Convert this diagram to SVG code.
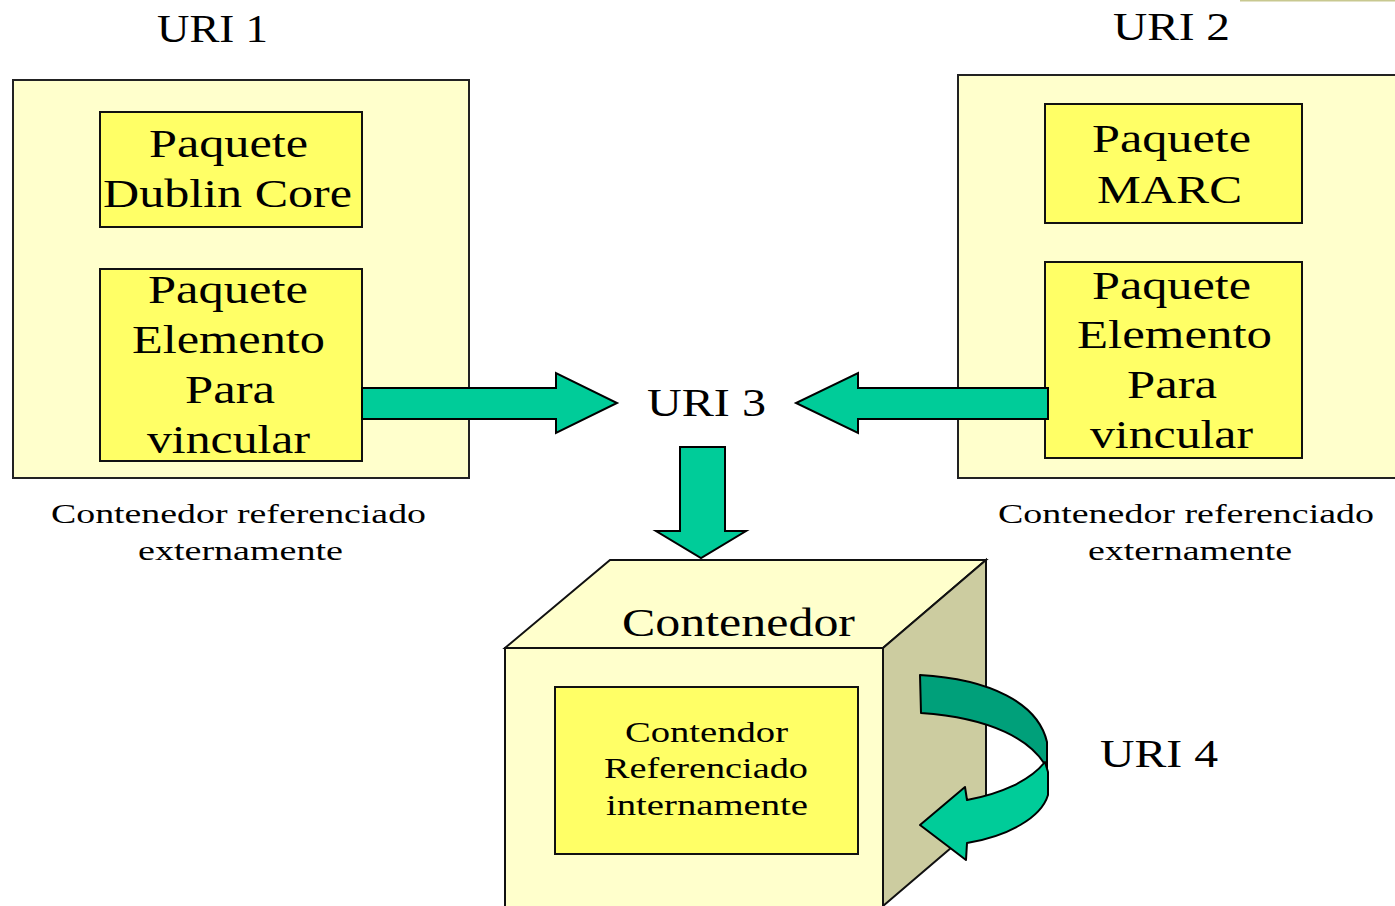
<svg xmlns="http://www.w3.org/2000/svg" width="1395" height="906" viewBox="0 0 1395 906">
<style>
.outer{fill:#FFFFCC;stroke:#222;stroke-width:2}
.inner{fill:#FFFF66;stroke:#111;stroke-width:2}
.t{font-family:"Liberation Serif","Times New Roman",serif;fill:#000;text-anchor:middle}
.big{font-size:40px}
.mid{font-size:30px}
.small{font-size:27px}
.arrow{fill:#00CC99;stroke:#000;stroke-width:2;stroke-linejoin:miter}
</style>
<rect x="0" y="0" width="1395" height="906" fill="#fff"/>
<line x1="1240" y1="0.5" x2="1395" y2="0.5" stroke="#C8C890" stroke-width="2"/>

<g id="uri1-label"><text class="t big" x="212.5" y="42" textLength="111" lengthAdjust="spacingAndGlyphs">URI 1</text></g>
<g id="uri2-label"><text class="t big" x="1171.5" y="40" textLength="117" lengthAdjust="spacingAndGlyphs">URI 2</text></g>

<g id="container-left">
<rect class="outer" x="13" y="80" width="456" height="398"/>
<text class="t small" x="238.5" y="523" textLength="375" lengthAdjust="spacingAndGlyphs">Contenedor referenciado</text>
<text class="t small" x="240.5" y="560" textLength="205" lengthAdjust="spacingAndGlyphs">externamente</text>
</g>
<g id="pkg-dublin">
<rect class="inner" x="100" y="112" width="262" height="115"/>
<text class="t big" x="228.5" y="157" textLength="159" lengthAdjust="spacingAndGlyphs">Paquete</text>
<text class="t big" x="227.5" y="207" textLength="249" lengthAdjust="spacingAndGlyphs">Dublin Core</text>
</g>
<g id="pkg-link-left">
<rect class="inner" x="100" y="269" width="262" height="192"/>
<text class="t big" x="228" y="303" textLength="160" lengthAdjust="spacingAndGlyphs">Paquete</text>
<text class="t big" x="228.5" y="353" textLength="193" lengthAdjust="spacingAndGlyphs">Elemento</text>
<text class="t big" x="230" y="403" textLength="90" lengthAdjust="spacingAndGlyphs">Para</text>
<text class="t big" x="228.5" y="453" textLength="163" lengthAdjust="spacingAndGlyphs">vincular</text>
</g>

<g id="container-right">
<path class="outer" d="M1396,75 L958,75 L958,478 L1396,478"/>
<text class="t small" x="1186" y="523" textLength="376" lengthAdjust="spacingAndGlyphs">Contenedor referenciado</text>
<text class="t small" x="1190" y="560" textLength="204" lengthAdjust="spacingAndGlyphs">externamente</text>
</g>
<g id="pkg-marc">
<rect class="inner" x="1045" y="104" width="257" height="119"/>
<text class="t big" x="1171.5" y="152" textLength="159" lengthAdjust="spacingAndGlyphs">Paquete</text>
<text class="t big" x="1169.5" y="203" textLength="145" lengthAdjust="spacingAndGlyphs">MARC</text>
</g>
<g id="pkg-link-right">
<rect class="inner" x="1045" y="262" width="257" height="196"/>
<text class="t big" x="1171.5" y="299" textLength="159" lengthAdjust="spacingAndGlyphs">Paquete</text>
<text class="t big" x="1174.5" y="348" textLength="195" lengthAdjust="spacingAndGlyphs">Elemento</text>
<text class="t big" x="1172" y="398" textLength="90" lengthAdjust="spacingAndGlyphs">Para</text>
<text class="t big" x="1171.5" y="448" textLength="163" lengthAdjust="spacingAndGlyphs">vincular</text>
</g>

<g id="uri3-label"><text class="t big" x="706.5" y="416" textLength="119" lengthAdjust="spacingAndGlyphs">URI 3</text></g>

<g id="container-cube">
<path d="M505,648 L610,560 L986,560 L883,648 Z" fill="#FFFFCC" stroke="#111" stroke-width="2"/>
<path d="M883,648 L986,560 L986,818 L883,906 Z" fill="#CCCCA0" stroke="#111" stroke-width="2"/>
<rect x="505" y="648" width="378" height="260" fill="#FFFFCC" stroke="#111" stroke-width="2"/>
<text class="t big" x="738.5" y="636" textLength="233" lengthAdjust="spacingAndGlyphs">Contenedor</text>
</g>
<g id="pkg-internal">
<rect class="inner" x="555" y="687" width="303" height="167"/>
<text class="t mid" x="706.5" y="742" textLength="163" lengthAdjust="spacingAndGlyphs">Contendor</text>
<text class="t mid" x="706" y="778" textLength="204" lengthAdjust="spacingAndGlyphs">Referenciado</text>
<text class="t mid" x="707" y="815" textLength="202" lengthAdjust="spacingAndGlyphs">internamente</text>
</g>

<g id="uri4-label"><text class="t big" x="1159" y="767" textLength="118" lengthAdjust="spacingAndGlyphs">URI 4</text></g>

<g id="connectors">
<path class="arrow" d="M362,388 L556,388 L556,373 L617,403 L556,433 L556,419 L362,419 Z"/>
<path class="arrow" d="M1048,388 L858,388 L858,373 L796,403 L858,433 L858,419 L1048,419 Z"/>
<path class="arrow" d="M680,447 L725,447 L725,531 L746,531 L701,558 L656,531 L680,531 Z"/>
<path d="M920,675 C990,679 1038,703 1047,742 L1047,768 C1032,740 992,718 921,713 Z" fill="#00A07A" stroke="#000" stroke-width="2" stroke-linejoin="round"/>
<path d="M1045,762 L1048,772 L1048,795 C1041,818 1008,836 967,843 L966,860 L920,825 L965,787 L967,800 C1000,794 1030,781 1045,762 Z" fill="#00CC99" stroke="#000" stroke-width="2" stroke-linejoin="round"/>
</g>
</svg>
